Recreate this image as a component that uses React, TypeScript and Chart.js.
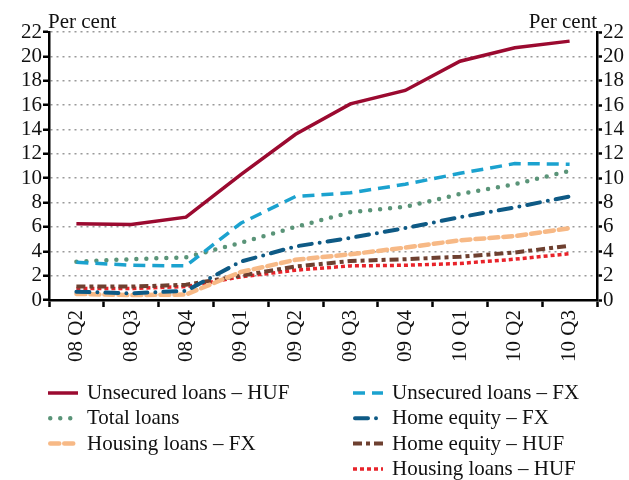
import React, { useEffect, useRef } from "react";
import { Chart, registerables } from "chart.js";

Chart.register(...registerables);

const categories = ["08 Q2", "08 Q3", "08 Q4", "09 Q1", "09 Q2", "09 Q3", "09 Q4", "10 Q1", "10 Q2", "10 Q3"];
const yTicks = [0, 2, 4, 6, 8, 10, 12, 14, 16, 18, 20, 22];
const unitLabel = "Per cent";

const unsecuredHUF = [6.25, 6.2, 6.8, 10.3, 13.6, 16.1, 17.2, 19.6, 20.7, 21.25];
const unsecuredFX = [3.1, 2.85, 2.8, 6.3, 8.5, 8.8, 9.5, 10.4, 11.2, 11.15];
const totalLoans = [3.15, 3.35, 3.5, 4.7, 6.0, 7.2, 7.65, 8.7, 9.5, 10.6];
const homeEquityFX = [0.68, 0.55, 0.75, 3.15, 4.4, 5.1, 5.9, 6.8, 7.6, 8.5];
const housingFX = [0.5, 0.4, 0.45, 2.3, 3.3, 3.75, 4.3, 4.9, 5.25, 5.9];
const homeEquityHUF = [1.1, 1.1, 1.25, 2.0, 2.75, 3.2, 3.35, 3.55, 3.9, 4.45];
const housingHUF = [0.95, 0.95, 1.1, 1.9, 2.45, 2.8, 2.85, 3.0, 3.35, 3.8];

const FONT = "'Liberation Serif', 'Times New Roman', serif";
const FS = 21;

// legend slots in row-major order (2 columns); null = empty slot
const legendSlots = [0, 1, 2, 3, 4, 5, null, 6];

export default function App() {
  const ref = useRef<HTMLCanvasElement>(null);

  useEffect(() => {
    const datasets: any[] = [
      { label: "Unsecured loans – HUF", data: unsecuredHUF, borderColor: "#9b0a30", borderWidth: 3.5, borderDash: [], borderCapStyle: "butt" },
      { label: "Unsecured loans – FX", data: unsecuredFX, borderColor: "#1ba2cf", borderWidth: 3.5, borderDash: [12, 7], borderCapStyle: "butt" },
      { label: "Total loans", data: totalLoans, borderColor: "#5a9478", borderWidth: 4.5, borderDash: [0, 10], borderCapStyle: "round" },
      { label: "Home equity – FX", data: homeEquityFX, borderColor: "#0e5a85", borderWidth: 4, borderDash: [13, 8, 0, 8], borderCapStyle: "round" },
      { label: "Housing loans – FX", data: housingFX, borderColor: "#f7b986", borderWidth: 4.5, borderDash: [9, 5], borderCapStyle: "round" },
      { label: "Home equity – HUF", data: homeEquityHUF, borderColor: "#6e4030", borderWidth: 4, borderDash: [9, 4, 4, 4], borderCapStyle: "butt" },
      { label: "Housing loans – HUF", data: housingHUF, borderColor: "#e8232a", borderWidth: 3.5, borderDash: [4, 3], borderCapStyle: "butt" },
    ].map((d) => ({ ...d, fill: false, pointRadius: 0, tension: 0 }));

    const extras = {
      id: "extras",
      afterDraw(chart: any) {
        const ctx = chart.ctx;
        const area = chart.chartArea;
        ctx.save();
        ctx.fillStyle = "#111";
        ctx.font = `${FS}px ${FONT}`;
        ctx.textBaseline = "alphabetic";
        ctx.textAlign = "left";
        ctx.fillText(unitLabel, area.left - 1, area.top - 4);
        ctx.textAlign = "right";
        ctx.fillText(unitLabel, area.right, area.top - 4);

        // legend
        const colX = [48, 353];
        const sampleW = 30;
        const rowY0 = 393;
        const rowH = 25.3;
        legendSlots.forEach((di, slot) => {
          if (di === null) return;
          const ds = chart.data.datasets[di];
          const col = slot % 2;
          const row = Math.floor(slot / 2);
          const x = colX[col];
          const y = rowY0 + row * rowH;
          ctx.save();
          ctx.strokeStyle = ds.borderColor;
          ctx.lineWidth = ds.borderWidth;
          ctx.setLineDash(ds.borderDash || []);
          ctx.lineCap = ds.borderCapStyle || "butt";
          ctx.beginPath();
          const pad = ctx.lineCap === "round" ? ds.borderWidth / 2 : 0;
          ctx.moveTo(x + pad, y);
          ctx.lineTo(x + sampleW - pad, y);
          ctx.stroke();
          ctx.restore();
          ctx.textAlign = "left";
          ctx.fillStyle = "#111";
          ctx.fillText(ds.label, x + sampleW + 9, y + 6);
        });
        ctx.restore();
      },
    };

    const tickFont = { family: FONT, size: FS };
    const chart = new Chart(ref.current as HTMLCanvasElement, {
      type: "line",
      data: { labels: categories, datasets },
      options: {
        animation: false,
        responsive: true,
        maintainAspectRatio: false,
        layout: { padding: { top: 32, left: 0, right: 0, bottom: 0 } },
        plugins: { legend: { display: false }, tooltip: { enabled: false } },
        scales: {
          x: {
            type: "category",
            offset: true,
            afterFit: (s: any) => { s.height = 180; },
            grid: { display: true, drawOnChartArea: false, drawTicks: true, offset: true, tickLength: 7, tickColor: "#000", tickWidth: 2.5 },
            border: { display: true, color: "#000", width: 2.5 },
            ticks: { color: "#111", font: tickFont, minRotation: 90, maxRotation: 90, autoSkip: false, padding: 3 },
          },
          y: {
            position: "left",
            min: 0,
            max: 22,
            afterFit: (s: any) => { s.width = 49; },
            afterBuildTicks: (s: any) => { s.ticks = yTicks.map((v) => ({ value: v })); },
            grid: { display: true, drawOnChartArea: true, drawTicks: true, color: "#9a9a9a", lineWidth: 1.5, tickLength: 6, tickColor: "#000", tickWidth: 2.5, tickBorderDash: [] },
            border: { display: true, color: "#000", width: 2.5, dash: [2, 4] },
            ticks: { color: "#111", font: tickFont, padding: 1, autoSkip: false },
          },
          y2: {
            position: "right",
            min: 0,
            max: 22,
            afterFit: (s: any) => { s.width = 32; },
            afterBuildTicks: (s: any) => { s.ticks = yTicks.map((v) => ({ value: v })); },
            grid: { display: true, drawOnChartArea: false, drawTicks: true, tickLength: 5, tickColor: "#000", tickWidth: 2.5 },
            border: { display: true, color: "#000", width: 2.5 },
            ticks: { color: "#111", font: tickFont, padding: 1, autoSkip: false },
          },
        },
      } as any,
      plugins: [extras],
    });
    return () => chart.destroy();
  }, []);

  return (
    <div style={{ position: "fixed", left: 0, top: 0, width: 629, height: 480, background: "#fff" }}>
      <canvas ref={ref} />
    </div>
  );
}
